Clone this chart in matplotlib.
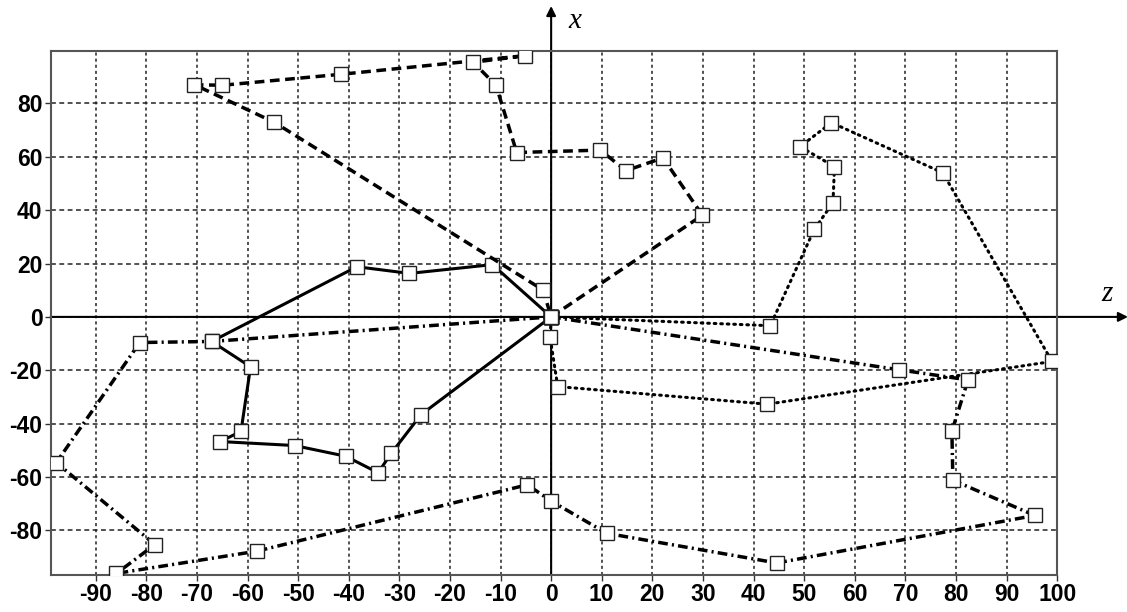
import matplotlib.pyplot as plt

plt.rcParams['lines.scale_dashes'] = False
plt.rcParams['axes.unicode_minus'] = False

# trajectories in the (z, x) plane, each one closed at the origin
solid_z = [0, -11.6, -28.0, -38.4, -67.1, -59.4, -61.3, -65.4, -50.7, -40.6, -34.2, -31.6, -25.7, 0]
solid_x = [0, 19.6, 16.3, 18.8, -9.2, -18.7, -42.9, -46.7, -48.2, -52.2, -58.4, -51.1, -36.6, 0]

dashed_z = [0, 29.9, 22.1, 14.8, 9.7, -6.8, -10.9, -15.4, -5.1, -41.6, -65.0, -70.5, -54.7, -1.6, 0]
dashed_x = [0, 38.1, 59.6, 54.8, 62.5, 61.6, 86.8, 95.4, 97.9, 90.9, 86.8, 87.0, 72.9, 10.1, 0]

dotted_z = [0, 43.3, 52.0, 55.7, 56.0, 49.2, 55.4, 77.4, 99.0, 42.7, 1.3, -0.2, 0]
dotted_x = [0, -3.3, 32.8, 42.8, 56.3, 63.8, 72.8, 54.0, -16.7, -32.7, -26.1, -7.7, 0]

dashdot_z = [0, 68.7, 82.4, 79.2, 79.4, 95.6, 44.6, 11.0, 0, -4.7, -58.2, -85.9, -78.3, -97.8, -81.3, -67.1, 0]
dashdot_x = [0, -19.8, -23.6, -42.8, -61.2, -74.4, -92.2, -81.1, -69.0, -62.9, -87.8, -96.1, -85.3, -54.6, -9.6, -9.2, 0]

z_ticks = list(range(-90, 101, 10))
x_ticks = list(range(-80, 81, 20))

fig = plt.figure(figsize=(11.27, 6.12), dpi=100)
ax = fig.add_axes([0.045, 0.0605, 0.893, 0.856])
ax.set_xlim(-98.9, 100)
ax.set_ylim(-96.7, 99.6)

# grid: dotted verticals, dashed horizontals
for z in z_ticks:
    ax.axvline(z, color='#222222', lw=1.1, dashes=(2.2, 2.2), zorder=1)
for x in x_ticks:
    ax.axhline(x, color='#222222', lw=1.1, dashes=(3.5, 2.5), zorder=1)

mk = dict(marker='s', markersize=9.5, markerfacecolor='white',
          markeredgecolor='#222222', markeredgewidth=1.0)

ax.plot(solid_z, solid_x, color='black', lw=2.2, zorder=3, **mk)
ax.plot(dashed_z, dashed_x, color='black', lw=2.5, dashes=(7, 4), zorder=3, **mk)
ax.plot(dotted_z, dotted_x, color='black', lw=2.2, dashes=(1.2, 3.5),
        dash_capstyle='round', zorder=3, **mk)
ax.plot(dashdot_z, dashdot_x, color='black', lw=2.5, dashes=(7, 3, 1.5, 3), zorder=3, **mk)

# coordinate axes through the origin, with arrows past the frame
ax.annotate('', xy=(114, 0), xytext=(-98.9, 0), annotation_clip=False,
            arrowprops=dict(arrowstyle='-|>', color='black', lw=1.5,
                            mutation_scale=14, shrinkA=0, shrinkB=0), zorder=2)
ax.annotate('', xy=(0, 116.5), xytext=(0, -96.7), annotation_clip=False,
            arrowprops=dict(arrowstyle='-|>', color='black', lw=1.5,
                            mutation_scale=14, shrinkA=0, shrinkB=0), zorder=2)
ax.text(109.8, 8.5, 'z', fontsize=21, style='italic', family='Liberation Serif',
        ha='center', va='center', clip_on=False)
ax.text(4.6, 111, 'x', fontsize=21, style='italic', family='Liberation Serif',
        ha='center', va='center', clip_on=False)

ax.set_xticks(z_ticks)
ax.set_yticks(x_ticks)
ax.tick_params(length=4, width=1, color='#333333', pad=2, labelsize=16.5)
for lab in ax.get_xticklabels() + ax.get_yticklabels():
    lab.set_fontweight('bold')
    lab.set_family('Liberation Sans')

for s in ax.spines.values():
    s.set_color('#555555')
    s.set_linewidth(1.5)

fig.savefig('out.png', dpi=100)
